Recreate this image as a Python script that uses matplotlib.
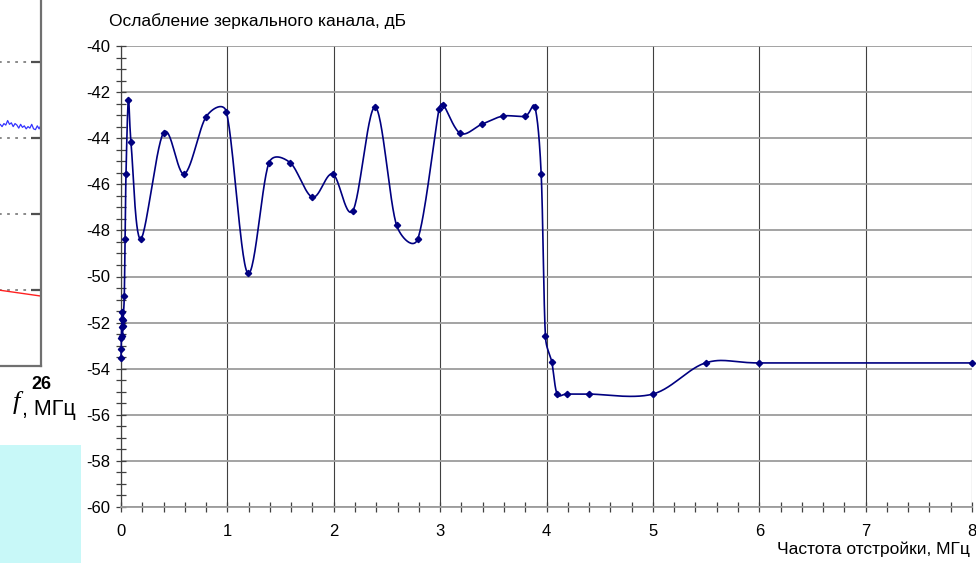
import numpy as np
import matplotlib
matplotlib.use("Agg")
import matplotlib.pyplot as plt
from matplotlib.patches import Rectangle
from matplotlib.ticker import MultipleLocator

plt.rcParams['font.family'] = ['Liberation Sans', 'DejaVu Sans']

# ---- main chart data ----
freq = [0.000, 0.002, 0.004, 0.006, 0.008, 0.010, 0.013, 0.016, 0.020,
        0.031, 0.038, 0.047, 0.069, 0.094, 0.185, 0.40, 0.595, 0.80, 0.99,
        1.19, 1.39, 1.59, 1.80, 1.99, 2.18, 2.39, 2.59, 2.79, 2.99, 3.03,
        3.19, 3.39, 3.59, 3.80, 3.89, 3.95, 3.99, 4.05, 4.10, 4.19, 4.40,
        5.00, 5.50, 6.00, 8.00]
atten = [-53.55, -53.15, -52.65, -52.2, -51.55, -51.85, -52.6, -52.15, -51.9,
         -50.83, -48.37, -45.55, -42.34, -44.18, -48.37, -43.76, -45.55, -43.07, -42.85,
         -49.85, -45.08, -45.06, -46.56, -45.55, -47.14, -42.65, -47.77, -48.37, -42.72, -42.55,
         -43.79, -43.4, -43.04, -43.04, -42.63, -45.55, -52.6, -53.72, -55.1, -55.1, -55.1,
         -55.1, -53.74, -53.75, -53.75]
y_title = "Ослабление зеркального канала, дБ"
x_title = "Частота отстройки, МГц"

# ---- left fragment data ----
frag_x_blue = [21.4, 21.6, 21.8, 22.0, 22.2, 22.4, 22.6, 22.8, 23.0, 23.2, 23.4, 23.6,
               23.8, 24.0, 24.2, 24.4, 24.6, 24.8, 25.0, 25.2, 25.4, 25.6, 25.8, 26.0]
frag_y_blue = [3.16, 3.18, 3.15, 3.19, 3.17, 3.23, 3.18, 3.20, 3.15, 3.19, 3.17, 3.13,
               3.18, 3.14, 3.16, 3.12, 3.15, 3.13, 3.18, 3.12, 3.11, 3.16, 3.12, 3.17]
frag_x_red = [21.4, 23.7, 26.0]
frag_y_red = [1.0, 0.96, 0.92]

W, H = 976, 563
L, R, T, B = 121, 972, 46, 507
SX = (R - L) / 8.0     # pixels per MHz
SY = (B - T) / 20.0    # pixels per dB


def smooth(xs, ys, n=30, k=0.5):
    # Bezier smoothing (Catmull-Rom style), control arms limited relative to segment length
    P = np.column_stack([np.asarray(xs) * SX, np.asarray(ys) * SY]).astype(float)
    out = []
    for i in range(len(P) - 1):
        p0 = P[i - 1] if i > 0 else P[i]
        p1 = P[i]
        p2 = P[i + 1]
        p3 = P[i + 2] if i + 2 < len(P) else P[i + 1]
        seglen = np.hypot(*(p2 - p1))
        d1 = (p2 - p0) / 6.0
        d2 = (p3 - p1) / 6.0
        for d in (d1, d2):
            m = np.hypot(*d)
            if m > k * seglen and m > 0:
                d *= k * seglen / m
        c1 = p1 + d1
        c2 = p2 - d2
        t = np.linspace(0, 1, n)[:, None]
        seg = ((1 - t) ** 3) * p1 + 3 * ((1 - t) ** 2) * t * c1 + 3 * (1 - t) * t ** 2 * c2 + t ** 3 * p2
        out.append(seg)
    C = np.vstack(out)
    return C[:, 0] / SX, C[:, 1] / SY


fig = plt.figure(figsize=(W / 100, H / 100), dpi=100)
fig.patch.set_facecolor('white')

# ---- fragment axes (left, partially visible) ----
fx0, fx1 = -200, 41
fy_bottom, fy_top = 366, -14
ax2 = fig.add_axes([fx0 / W, 1 - fy_bottom / H, (fx1 - fx0) / W, (fy_bottom - fy_top) / H])
ax2.set_xlim(0, 26)
ax2.set_ylim(0, 5)
ax2.set_facecolor('none')
for s in ['top', 'left']:
    ax2.spines[s].set_visible(False)
for s in ['right', 'bottom']:
    ax2.spines[s].set_color('#707070')
    ax2.spines[s].set_linewidth(1.6)
ax2.yaxis.tick_right()
ax2.set_yticks([1, 2, 3, 4])
ax2.tick_params(axis='y', direction='in', length=7, width=1.6, color='#505050', labelright=False)
ax2.set_xticks([26])
ax2.set_xticklabels(['26'], fontsize=13, fontweight='bold',
                    family=['Liberation Sans Narrow', 'Liberation Sans'])
ax2.tick_params(axis='x', length=0, pad=7)
ax2.grid(axis='y', linestyle=(0, (1.5, 3)), color='#808080', linewidth=1.3)
ax2.plot(frag_x_blue, frag_y_blue, color='#3333ff', linewidth=0.9)
ax2.plot(frag_x_red, frag_y_red, color='#ff2020', linewidth=1.0)

fig.text(16 / W, 1 - 402 / H, 'f', family=['Liberation Serif', 'DejaVu Serif'], style='italic',
         fontsize=19, ha='center', va='center')
fig.text(22 / W, 1 - 409 / H, ', МГц', family=['Liberation Sans Narrow', 'Liberation Sans'],
         fontsize=15.5, ha='left', va='center')
fig.add_artist(Rectangle((0, 0), 81 / W, 118 / H, transform=fig.transFigure,
                         facecolor='#c8f8f8', edgecolor='none', zorder=0))

# ---- main axes ----
ax = fig.add_axes([L / W, 1 - B / H, (R - L) / W, (B - T) / H])
ax.set_xlim(0, 8)
ax.set_ylim(-60, -40)
ax.xaxis.set_major_locator(MultipleLocator(1))
ax.xaxis.set_minor_locator(MultipleLocator(0.2))
ax.yaxis.set_major_locator(MultipleLocator(2))
ax.yaxis.set_minor_locator(MultipleLocator(0.5))
ax.grid(axis='y', which='major', color='#9c9c9c', linewidth=1.3)
ax.grid(axis='x', which='major', color='#404040', linewidth=0.8)
ax.set_axisbelow(True)
for s in ['top', 'right']:
    ax.spines[s].set_visible(False)
ax.spines['left'].set_color('#404040')
ax.spines['left'].set_linewidth(0.9)
ax.spines['bottom'].set_color('#9c9c9c')
ax.spines['bottom'].set_linewidth(1.3)
ax.tick_params(axis='both', which='both', direction='inout', color='#404040', width=0.9)
ax.tick_params(axis='both', which='major', length=7, labelsize=12)
ax.tick_params(axis='both', which='minor', length=7)
ax.tick_params(axis='x', which='major', pad=9)
ax.tick_params(axis='y', which='major', pad=4)
ax.set_yticks(ax.get_yticks())
ax.set_yticklabels([f"{int(v)}" for v in ax.get_yticks()])
ax.set_ylim(-60, -40)

cx, cy = smooth(freq, atten)
ax.plot(cx, cy, color='#000080', linewidth=1.2, clip_on=False, zorder=3)
ax.plot(freq, atten, linestyle='none', marker='D', markersize=3.2, color='#000080', zorder=4, clip_on=False)

fig.text(109 / W, 1 - 21 / H, y_title, fontsize=12.5, ha='left', va='center')
fig.text(970 / W, 1 - 549 / H, x_title, fontsize=12.5, ha='right', va='center')

fig.savefig('out.png', dpi=100)
